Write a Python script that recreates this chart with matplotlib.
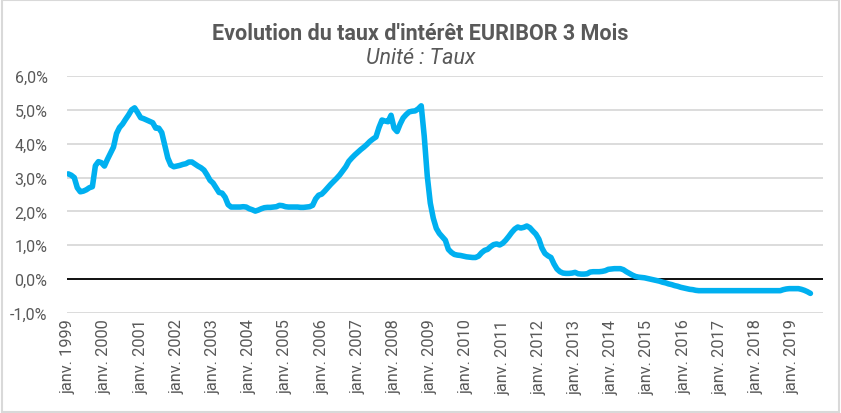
import numpy as np
import matplotlib.pyplot as plt
from matplotlib.patches import Rectangle

# EURIBOR 3 mois, moyenne mensuelle (%), janv. 1999 -> juil. 2019
taux_1999 = [3.11, 3.07, 3.00, 2.70, 2.58, 2.60, 2.64, 2.70, 2.73, 3.35, 3.47, 3.44]
taux_2000 = [3.34, 3.54, 3.72, 3.90, 4.30, 4.48, 4.58, 4.72, 4.85, 5.00, 5.06, 4.92]
taux_2001 = [4.77, 4.74, 4.70, 4.66, 4.62, 4.46, 4.46, 4.33, 3.95, 3.58, 3.37, 3.32]
taux_2002 = [3.34, 3.36, 3.39, 3.41, 3.46, 3.46, 3.40, 3.34, 3.29, 3.22, 3.08, 2.92]
taux_2003 = [2.84, 2.70, 2.56, 2.54, 2.42, 2.20, 2.13, 2.13, 2.13, 2.13, 2.14, 2.13]
taux_2004 = [2.08, 2.05, 2.01, 2.04, 2.08, 2.11, 2.12, 2.12, 2.13, 2.14, 2.18, 2.17]
taux_2005 = [2.14, 2.13, 2.13, 2.13, 2.13, 2.12, 2.12, 2.13, 2.14, 2.18, 2.37, 2.48]
taux_2006 = [2.51, 2.60, 2.70, 2.80, 2.89, 2.98, 3.08, 3.20, 3.32, 3.48, 3.58, 3.67]
taux_2007 = [3.75, 3.83, 3.90, 3.98, 4.07, 4.14, 4.20, 4.48, 4.70, 4.67, 4.65, 4.84]
taux_2008 = [4.46, 4.36, 4.58, 4.76, 4.86, 4.94, 4.96, 4.97, 5.03, 5.12, 4.22, 3.05]
taux_2009 = [2.25, 1.80, 1.50, 1.35, 1.25, 1.15, 0.88, 0.79, 0.73, 0.71, 0.70, 0.68]
taux_2010 = [0.66, 0.65, 0.64, 0.64, 0.68, 0.78, 0.85, 0.88, 0.96, 1.02, 1.04, 1.01]
taux_2011 = [1.06, 1.15, 1.26, 1.38, 1.48, 1.54, 1.51, 1.53, 1.57, 1.52, 1.42, 1.33]
taux_2012 = [1.18, 0.92, 0.76, 0.69, 0.64, 0.45, 0.30, 0.22, 0.18, 0.17, 0.17, 0.18]
taux_2013 = [0.20, 0.16, 0.15, 0.15, 0.16, 0.21, 0.22, 0.22, 0.22, 0.23, 0.25, 0.29]
taux_2014 = [0.30, 0.31, 0.31, 0.31, 0.28, 0.22, 0.17, 0.12, 0.08, 0.06, 0.05, 0.04]
taux_2015 = [0.02, 0.00, -0.02, -0.04, -0.06, -0.09, -0.11, -0.14, -0.16, -0.19, -0.21, -0.24]
taux_2016 = [-0.26, -0.28, -0.30, -0.31, -0.33, -0.34, -0.34, -0.34, -0.34, -0.34, -0.34, -0.34]
taux_2017 = [-0.34] * 12
taux_2018 = [-0.34, -0.34, -0.34, -0.34, -0.34, -0.34, -0.34, -0.34, -0.34, -0.31, -0.29, -0.28]
taux_2019 = [-0.28, -0.28, -0.28, -0.30, -0.33, -0.37, -0.42]

annees = list(range(1999, 2020))
taux = (taux_1999 + taux_2000 + taux_2001 + taux_2002 + taux_2003 + taux_2004 +
        taux_2005 + taux_2006 + taux_2007 + taux_2008 + taux_2009 + taux_2010 +
        taux_2011 + taux_2012 + taux_2013 + taux_2014 + taux_2015 + taux_2016 +
        taux_2017 + taux_2018 + taux_2019)
labels = ["janv. " + str(a) for a in annees]

gris = "#595959"
plt.rcParams['font.family'] = ['Roboto', 'DejaVu Sans']

fig = plt.figure(figsize=(8.41, 4.14), dpi=100)
ax = fig.add_axes([0.0797, 0.2415, 0.899, 0.5725])

x = np.arange(len(taux))
ax.plot(x, taux, color="#00B0F0", lw=4, solid_capstyle="round", solid_joinstyle="round", zorder=3)
ax.axhline(0, color="black", lw=1.3, zorder=2)

ax.set_ylim(-1, 6)
ax.set_yticks(np.arange(-1, 7, 1))
ax.set_yticklabels([f"{v:.1f}%".replace(".", ",") for v in np.arange(-1, 7, 1)],
                   fontsize=11.5, color=gris)
ax.set_xlim(-0.4, 250.2)
ax.set_xticks(np.arange(0, 12 * len(annees), 12))
ax.set_xticklabels(labels, rotation=90, fontsize=11.8, color=gris)
ax.tick_params(length=0, pad=4)
ax.tick_params(axis="y", pad=14)

ax.grid(axis="y", color="#D9D9D9", lw=1.3)
ax.set_axisbelow(True)
for s in ax.spines.values():
    s.set_visible(False)

fig.text(0.5, 0.918, "Evolution du taux d'intérêt EURIBOR 3 Mois", ha="center", va="center",
         fontsize=15.5, fontweight="bold", color=gris)
fig.text(0.5, 0.858, "Unité : Taux", ha="center", va="center",
         fontsize=15.5, style="italic", color=gris)

fig.patches.append(Rectangle((0.002, 0.003), 0.996, 0.994, transform=fig.transFigure,
                             fill=False, edgecolor="#D9D9D9", lw=1.5))

fig.savefig("out.png", dpi=100)
